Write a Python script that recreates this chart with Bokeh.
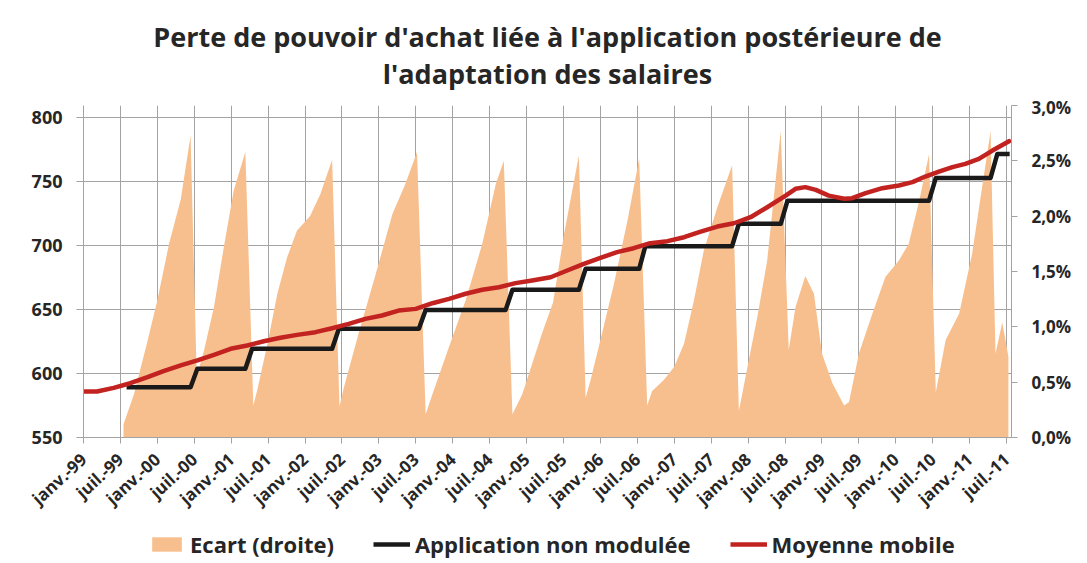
from bokeh.plotting import figure
from bokeh.layouts import column
from bokeh.models import (Range1d, LinearAxis, FixedTicker, CustomJSTickFormatter,
                          Legend, LegendItem, Div)
from bokeh.embed import file_html
from bokeh.resources import INLINE

title_lines = ["Perte de pouvoir d'achat liée à l'application postérieure de",
               "l'adaptation des salaires"]

# x axis: months since janv. 1999
tick_months = list(range(0, 151, 6))
tick_labels = ["janv.-99", "juil.-99", "janv.-00", "juil.-00", "janv.-01", "juil.-01",
               "janv.-02", "juil.-02", "janv.-03", "juil.-03", "janv.-04", "juil.-04",
               "janv.-05", "juil.-05", "janv.-06", "juil.-06", "janv.-07", "juil.-07",
               "janv.-08", "juil.-08", "janv.-09", "juil.-09", "janv.-10", "juil.-10",
               "janv.-11", "juil.-11"]
left_ticks = [550, 600, 650, 700, 750, 800]
right_ticks = [0.0, 0.5, 1.0, 1.5, 2.0, 2.5, 3.0]
legend_labels = ["Ecart (droite)", "Application non modulée", "Moyenne mobile"]

# Ecart (droite), in %
ecart_months = [6.5, 8.2, 10.3, 12.0, 13.9, 15.8, 17.4, 18.4,
                19.6, 21.2, 22.8, 24.4, 26.3, 27.6,
                28.2, 29.9, 31.5, 33.1, 34.7, 36.8, 38.5, 40.4, 41.6,
                42.3, 44.7, 47.5, 50.2, 52.3, 54.2, 55.6,
                56.7, 59.4, 62.1, 64.8, 67.0, 68.3, 69.7,
                71.3, 74.5, 76.3, 78.1, 80.5, 81.6,
                82.4, 84.0, 86.2, 88.4, 90.3, 91.6,
                92.4, 94.3, 96.0, 97.6, 99.2, 100.8, 103.0, 105.4, 106.5,
                107.9, 109.5, 111.1, 113.3, 114.6,
                115.7, 117.3, 118.7, 120.0, 121.7, 123.6, 124.4, 126.0, 128.2, 130.3,
                132.5, 134.1, 135.8, 137.4, 138.5,
                140.1, 142.3, 144.4, 146.1, 147.4, 148.2, 149.3, 150.3]
ecart_pct = [0.12, 0.39, 0.85, 1.24, 1.75, 2.15, 2.73, 0.55,
             0.79, 1.18, 1.72, 2.23, 2.58, 0.29,
             0.42, 0.85, 1.30, 1.63, 1.87, 2.00, 2.20, 2.51, 0.28,
             0.45, 0.94, 1.48, 2.02, 2.29, 2.58, 0.21,
             0.39, 0.82, 1.24, 1.75, 2.29, 2.50, 0.21,
             0.39, 0.94, 1.22, 1.84, 2.55, 0.36,
             0.52, 0.88, 1.39, 1.96, 2.52, 0.29,
             0.42, 0.52, 0.64, 0.85, 1.24, 1.69, 2.08, 2.46, 0.24,
             0.64, 1.09, 1.60, 2.77, 0.79,
             1.18, 1.46, 1.30, 0.76, 0.49, 0.29, 0.32, 0.76, 1.12, 1.45,
             1.60, 1.75, 2.14, 2.56, 0.41,
             0.88, 1.12, 1.66, 2.29, 2.77, 0.76, 1.04, 0.73]

# Application non modulée
appl_months = [7.0, 17.4, 18.5, 26.3, 27.4, 40.4, 41.5, 54.5, 55.6, 68.6, 69.7, 80.5,
               81.6, 90.3, 91.3, 105.4, 106.5, 113.3, 114.4, 137.4, 138.5, 147.4, 148.5, 150.5]
appl_values = [589.3, 589.3, 603.7, 603.7, 619.3, 619.3, 634.9, 634.9, 649.7, 649.7, 665.4, 665.4,
               681.8, 681.8, 699.5, 699.5, 717.0, 717.0, 735.0, 735.0, 752.8, 752.8, 771.6, 771.6]

# Moyenne mobile
moy_months = [0, 2.2, 4.9, 7.6, 10.4, 13.0, 15.8, 18.5, 21.2, 23.9, 26.6, 29.3, 32.0, 34.7,
              37.7, 40.4, 43.1, 45.8, 48.5, 51.2, 54.0, 56.7, 59.4, 62.1, 64.8, 67.5, 70.2,
              72.9, 75.9, 78.6, 81.3, 84.0, 86.7, 89.4, 92.1, 94.9, 97.6, 100.3, 103.0, 105.7,
              108.4, 111.1, 114.1, 115.7, 117.3, 119.0, 121.1, 123.6, 124.9, 127.1, 129.8,
              132.5, 134.7, 136.8, 139.0, 141.2, 143.3, 145.5, 147.7, 150.4]
moy_values = [585.9, 585.9, 588.8, 592.4, 597.1, 601.8, 606.3, 610.2, 614.6, 619.3, 621.9,
              625.2, 627.9, 630.2, 632.3, 635.4, 638.8, 642.7, 645.3, 649.2, 650.5, 654.9,
              658.3, 662.3, 665.4, 667.4, 670.6, 672.7, 675.2, 680.5, 685.7, 690.4, 694.8,
              697.9, 701.8, 703.4, 706.5, 710.9, 714.8, 717.4, 722.1, 729.9, 739.0, 744.3,
              745.6, 743.5, 739.0, 736.5, 737.0, 740.9, 744.8, 746.9, 749.5, 753.9, 757.8,
              761.2, 763.8, 767.7, 774.2, 781.5]

FONT = "Open Sans"
TXT = "#262626"
GRID = "#a3a3a3"
C_AREA = "#F8BF8E"
C_APPL = "#1a1a1a"
C_MOY = "#C22320"

# two centred title lines
title_div = Div(text="<br>".join(title_lines), width=1087, height=95, margin=0,
                styles={"text-align": "center", "font-family": FONT, "font-weight": "bold",
                        "font-size": "27px", "line-height": "37px", "color": TXT,
                        "padding-top": "18px", "padding-left": "8px",
                        "box-sizing": "border-box", "background": "white"})

p = figure(width=1087, height=428, output_backend="svg", toolbar_location=None,
           x_range=Range1d(0, 150.8), y_range=Range1d(550, 809.4),
           min_border_left=83, min_border_right=76, min_border_top=10, min_border_bottom=86)
p.extra_y_ranges = {"pct": Range1d(0, 3.0)}
p.outline_line_color = None
p.background_fill_color = "white"
p.border_fill_color = "white"
p.title.text = ""

r_area = p.varea(x=ecart_months, y1=0, y2=ecart_pct, y_range_name="pct",
                 fill_color=C_AREA, fill_alpha=1.0)
r_appl = p.line(appl_months, appl_values, line_color=C_APPL, line_width=4.5,
                line_join="round")
r_moy = p.line(moy_months, moy_values, line_color=C_MOY, line_width=4.5,
               line_join="round", line_cap="round")

# axes
xa = p.xaxis[0]
xa.ticker = FixedTicker(ticks=tick_months)
xa.major_label_overrides = dict(zip(tick_months, tick_labels))
xa.major_label_orientation = 0.74
xa.major_label_text_font = FONT
xa.major_label_text_font_size = "17px"
xa.major_label_text_font_style = "bold"
xa.major_label_text_color = TXT
xa.major_label_standoff = 13
xa.axis_line_color = GRID
xa.major_tick_line_color = GRID
xa.major_tick_out = 6
xa.major_tick_in = 0
xa.minor_tick_line_color = None

ya = p.yaxis[0]
ya.ticker = FixedTicker(ticks=left_ticks)
ya.major_label_text_font = FONT
ya.major_label_text_font_size = "18px"
ya.major_label_text_font_style = "bold"
ya.major_label_text_color = TXT
ya.major_label_standoff = 14
ya.axis_line_color = GRID
ya.major_tick_line_color = GRID
ya.major_tick_out = 7
ya.major_tick_in = 0
ya.minor_tick_line_color = None

ra = LinearAxis(y_range_name="pct", ticker=FixedTicker(ticks=right_ticks),
                formatter=CustomJSTickFormatter(code="return tick.toFixed(1).replace('.', ',') + '%';"))
ra.major_label_text_font = FONT
ra.major_label_text_font_size = "17px"
ra.major_label_text_font_style = "bold"
ra.major_label_text_color = TXT
ra.major_label_standoff = 14
ra.axis_line_color = GRID
ra.major_tick_line_color = GRID
ra.major_tick_out = 6
ra.major_tick_in = 0
ra.minor_tick_line_color = None
p.add_layout(ra, "right")

p.xgrid.grid_line_color = GRID
p.ygrid.grid_line_color = GRID
p.xgrid.grid_line_width = 1
p.ygrid.grid_line_width = 1

# legend strip below the chart (its frame is aligned with the chart frame)
lf = figure(width=1087, height=40, output_backend="svg", toolbar_location=None,
            x_range=Range1d(0, 1), y_range=Range1d(0, 1),
            x_axis_type=None, y_axis_type=None,
            min_border_left=0, min_border_right=0, min_border_top=0, min_border_bottom=0)
lf.outline_line_color = None
lf.background_fill_color = "white"
lf.border_fill_color = "white"
# legend swatches only: their own data lies outside the strip's visible range
lg_area = lf.varea(x=[-3, -2], y1=[0, 0], y2=[1, 1], fill_color=C_AREA, fill_alpha=1.0)
lg_appl = lf.line([-3, -2], [0, 0], line_color=C_APPL, line_width=4.5)
lg_moy = lf.line([-3, -2], [0, 0], line_color=C_MOY, line_width=4.5)
legend = Legend(items=[LegendItem(label=legend_labels[0], renderers=[lg_area]),
                       LegendItem(label=legend_labels[1], renderers=[lg_appl]),
                       LegendItem(label=legend_labels[2], renderers=[lg_moy])],
                location=(65, 4), orientation="horizontal",
                glyph_width=37, glyph_height=18, label_standoff=5, spacing=39,
                padding=0, margin=0, border_line_color=None, background_fill_alpha=0,
                label_text_font=FONT, label_text_font_size="22px",
                label_text_font_style="bold", label_text_color=TXT)
lf.add_layout(legend, "center")

layout = column(title_div, p, lf, spacing=0)
open("out.html", "w").write(file_html(layout, INLINE))
